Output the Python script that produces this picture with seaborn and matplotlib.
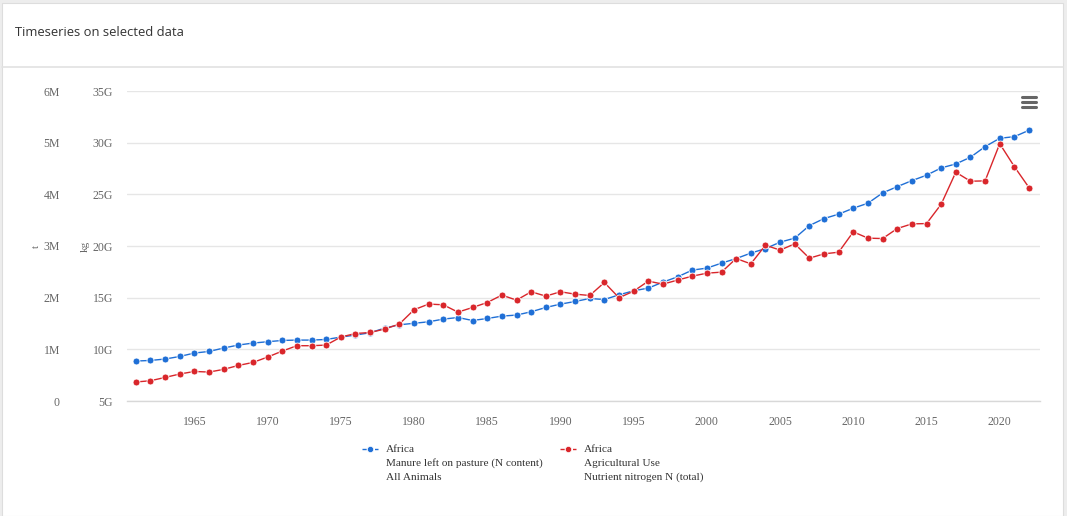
import matplotlib
matplotlib.use("Agg")
import matplotlib.pyplot as plt
import seaborn as sns
import pandas as pd
from matplotlib.patches import Rectangle
from matplotlib.lines import Line2D
from matplotlib.ticker import FuncFormatter, FixedLocator

years = list(range(1961, 2023))

# Manure left on pasture (N content), all animals - tonnes
manure_t = [
    0.773e6, 0.785e6, 0.812e6, 0.862e6, 0.928e6, 0.959e6, 1.025e6, 1.083e6, 1.121e6, 1.147e6,
    1.172e6, 1.179e6, 1.179e6, 1.191e6, 1.237e6, 1.276e6, 1.321e6, 1.411e6, 1.475e6, 1.504e6,
    1.533e6, 1.585e6, 1.616e6, 1.558e6, 1.597e6, 1.643e6, 1.663e6, 1.727e6, 1.810e6, 1.875e6,
    1.926e6, 1.984e6, 1.964e6, 2.055e6, 2.133e6, 2.185e6, 2.301e6, 2.403e6, 2.533e6, 2.572e6,
    2.668e6, 2.757e6, 2.862e6, 2.950e6, 3.074e6, 3.152e6, 3.395e6, 3.531e6, 3.616e6, 3.732e6,
    3.828e6, 4.027e6, 4.149e6, 4.265e6, 4.370e6, 4.511e6, 4.588e6, 4.718e6, 4.923e6, 5.085e6,
    5.116e6, 5.240e6,
]

# Agricultural use, nutrient nitrogen N (total) - kg
nitrogen_kg = [
    6.84e9, 6.96e9, 7.28e9, 7.61e9, 7.86e9, 7.80e9, 8.06e9, 8.44e9, 8.73e9, 9.25e9,
    9.83e9, 10.35e9, 10.35e9, 10.41e9, 11.19e9, 11.53e9, 11.63e9, 11.96e9, 12.45e9, 13.83e9,
    14.38e9, 14.31e9, 13.60e9, 14.05e9, 14.53e9, 15.25e9, 14.76e9, 15.57e9, 15.15e9, 15.57e9,
    15.34e9, 15.21e9, 16.47e9, 14.99e9, 15.63e9, 16.60e9, 16.31e9, 16.70e9, 17.08e9, 17.37e9,
    17.47e9, 18.79e9, 18.27e9, 20.08e9, 19.60e9, 20.21e9, 18.82e9, 19.24e9, 19.40e9, 21.37e9,
    20.76e9, 20.72e9, 21.69e9, 22.14e9, 22.17e9, 24.04e9, 27.14e9, 26.27e9, 26.30e9, 29.90e9,
    27.68e9, 25.65e9,
]

t_ticks = [0, 1e6, 2e6, 3e6, 4e6, 5e6, 6e6]
t_labels = ["0", "1M", "2M", "3M", "4M", "5M", "6M"]
kg_ticks = [5e9, 10e9, 15e9, 20e9, 25e9, 30e9, 35e9]
kg_labels = ["5G", "10G", "15G", "20G", "25G", "30G", "35G"]
x_ticks = [1965, 1970, 1975, 1980, 1985, 1990, 1995, 2000, 2005, 2010, 2015, 2020]

blue = "#1f6fd6"
red = "#d9262b"
grid_c = "#e6e6e6"
text_c = "#666666"
serif = ["Liberation Serif", "DejaVu Serif"]

df = pd.DataFrame({"year": years, "manure": manure_t, "nitrogen": nitrogen_kg})

sns.set_style("white")
W, H = 1067, 516
fig = plt.figure(figsize=(W / 100, H / 100), dpi=100)
fig.patch.set_facecolor("#ededed")

# card
fig.add_artist(Rectangle((2 / W, 0), 1061 / W, (H - 3) / H, transform=fig.transFigure,
                         facecolor="white", edgecolor="#dddddd", linewidth=0.8, zorder=0))
fig.add_artist(Line2D([2 / W, 1063 / W], [1 - 67 / H, 1 - 67 / H], transform=fig.transFigure,
                      color="#e2e2e2", linewidth=1.2))
fig.text(15 / W, 1 - 32 / H, "Timeseries on selected data", fontsize=9.4, color="#333333",
         family=["Open Sans", "DejaVu Sans"], va="center", ha="left")

left, right, top, bottom = 127, 1040, 91, 401
ax = fig.add_axes([left / W, 1 - bottom / H, (right - left) / W, (bottom - top) / H])
ax.set_facecolor("none")
ax2 = ax.twinx()

sns.lineplot(data=df, x="year", y="manure", ax=ax, color=blue, linewidth=1,
             marker="o", markersize=5, markeredgecolor="white", markeredgewidth=0.6, zorder=3)
sns.lineplot(data=df, x="year", y="nitrogen", ax=ax2, color=red, linewidth=1,
             marker="o", markersize=5, markeredgecolor="white", markeredgewidth=0.6, zorder=3)

ax.set_xlim(1960.4, 2022.75)
ax.set_ylim(0, 6e6)
ax2.set_ylim(5e9, 35e9)

ax.yaxis.set_major_locator(FixedLocator(t_ticks))
ax.yaxis.set_major_formatter(FuncFormatter(lambda v, p: t_labels[t_ticks.index(v)] if v in t_ticks else ""))
ax2.yaxis.set_major_locator(FixedLocator(kg_ticks))
ax2.yaxis.set_major_formatter(FuncFormatter(lambda v, p: kg_labels[kg_ticks.index(v)] if v in kg_ticks else ""))

ax2.yaxis.tick_left()
ax2.yaxis.set_label_position("left")

ax.grid(axis="y", color=grid_c, linewidth=1)
ax.set_axisbelow(True)
for a in (ax, ax2):
    for s in ("top", "right", "left"):
        a.spines[s].set_visible(False)
ax2.spines["bottom"].set_visible(False)
ax.spines["bottom"].set_color("#d8d8d8")
ax.spines["bottom"].set_linewidth(1)

ax.tick_params(axis="y", length=0, pad=67 * 0.72, labelsize=8.5, labelcolor=text_c)
ax2.tick_params(axis="y", length=0, pad=14 * 0.72, labelsize=8.5, labelcolor=text_c)
for lab in ax.get_yticklabels() + ax2.get_yticklabels():
    lab.set_family(serif)

ax.set_xticks(x_ticks)
ax.set_xticklabels([str(x) for x in x_ticks], family=serif)
ax.tick_params(axis="x", length=7, width=1, color="#d8d8d8", pad=4, labelsize=8.5, labelcolor=text_c)

ax.set_xlabel("")
ax.set_ylabel("t", family=serif, fontsize=8, color=text_c)
ax.yaxis.set_label_coords((41 - left) / (right - left), 0.5)
ax2.set_ylabel("kg", family=serif, fontsize=8, color=text_c)
ax2.yaxis.set_label_coords((90 - left) / (right - left), 0.5)

# menu icon
for yy in (97, 102, 107):
    fig.add_artist(Line2D([1022 / W, 1036 / W], [1 - yy / H, 1 - yy / H], transform=fig.transFigure,
                          color="#666666", linewidth=2.2, solid_capstyle="round"))

# legend
def legend_entry(x0, color, lines):
    y0 = 1 - 449 / H
    fig.add_artist(Line2D([x0 / W, (x0 + 16) / W], [y0, y0], transform=fig.transFigure,
                          color=color, linewidth=1, linestyle=(0, (3, 1.5))))
    fig.add_artist(Line2D([(x0 + 8) / W], [y0], transform=fig.transFigure, color=color,
                          marker="o", markersize=4.5, markeredgecolor="white", markeredgewidth=0.5))
    for i, txt in enumerate(lines):
        fig.text((x0 + 24) / W, 1 - (449 + 14 * i) / H, txt, family=serif, fontsize=8.1,
                 color="#333333", va="center", ha="left")

legend_entry(362, blue, ["Africa", "Manure left on pasture (N content)", "All Animals"])
legend_entry(560, red, ["Africa", "Agricultural Use", "Nutrient nitrogen N (total)"])

fig.savefig("out.png", dpi=100, facecolor=fig.get_facecolor())
